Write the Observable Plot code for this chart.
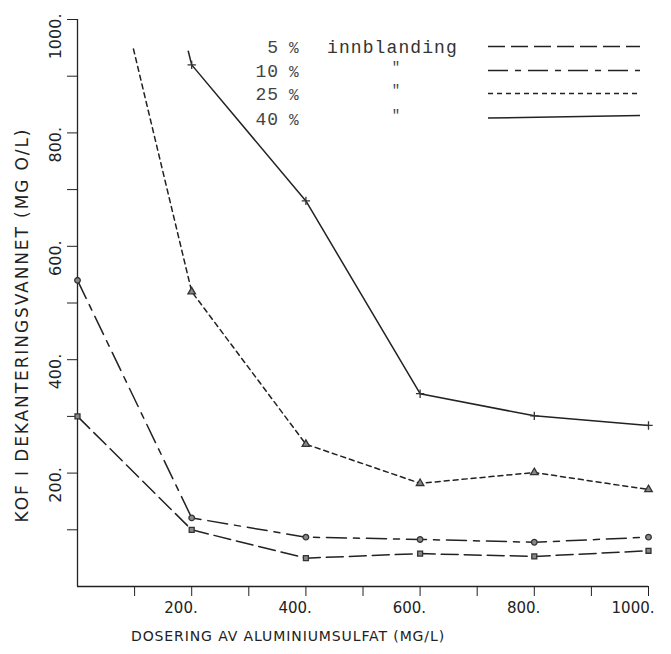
<!DOCTYPE html>
<html><head><meta charset="utf-8">
<script src="https://cdn.jsdelivr.net/npm/d3@7"></script>
<script src="https://cdn.jsdelivr.net/npm/@observablehq/plot@0.6"></script>
<style>
body{margin:0;background:#fff}
#wrap{position:relative;width:671px;height:654px;background:#fff}
#legend{position:absolute;left:0;top:0;pointer-events:none}
</style>
</head><body><div id="wrap"></div>
<script>
// ---- data ----
const seriesNames = ["5 %", "10 %", "25 %", "40 %"];
const dose5  = [0, 200, 400, 600, 800, 1000];
const kof5   = [300, 100, 50, 58, 53, 63];
const dose10 = [0, 200, 400, 600, 800, 1000];
const kof10  = [540, 121, 87, 83, 78, 87];
const dose25 = [98, 200, 400, 600, 800, 1000];
const kof25  = [948, 520, 251, 182, 201, 171];
const dose40 = [194, 200, 400, 600, 800, 1000];
const kof40  = [944, 920, 680, 340, 301, 284];
const xTicks = [100, 200, 300, 400, 500, 600, 700, 800, 900, 1000];
const yTicks = [100, 200, 300, 400, 500, 600, 700, 800, 900, 1000];
const xLabels = [200, 400, 600, 800, 1000];
const yLabels = [200, 400, 600, 800, 1000];
const xTitle = "DOSERING AV ALUMINIUMSULFAT (MG/L)";
const yTitle = "KOF I DEKANTERINGSVANNET (MG O/L)";
const legendWord = "innblanding";
const dittoMark = "\"";

// ---- build rows ----
const seriesData = [[dose5, kof5], [dose10, kof10], [dose25, kof25], [dose40, kof40]];
const rows = seriesData.flatMap(([xs, ys], i) =>
  xs.map((d, j) => ({series: seriesNames[i], dose: d, kof: ys[j], marked: d % 200 === 0})));

const ink = "#222";
const dashes = {"5 %": "17,6", "10 %": "20,7,6,7", "25 %": "5,4", "40 %": null};

const lineMarks = seriesNames.map(s =>
  Plot.line(rows.filter(r => r.series === s), {
    x: "dose", y: "kof", stroke: ink, strokeWidth: 1.5,
    strokeDasharray: dashes[s], curve: "linear"
  }));

const chart = Plot.plot({
  width: 671, height: 654,
  marginLeft: 77, marginRight: 23, marginTop: 19, marginBottom: 68,
  x: {domain: [0, 1000]},
  y: {domain: [0, 1000]},
  symbol: {domain: seriesNames, range: ["square", "circle", "triangle", "plus"]},
  style: {fontFamily: "DejaVu Sans", fontSize: "14px", color: ink, background: "#fff"},
  marks: [
    Plot.ruleX([0], {y1: 0, y2: 1000, stroke: ink, strokeWidth: 1.3}),
    Plot.ruleY([0], {x1: 0, x2: 1000, stroke: ink, strokeWidth: 1.3}),
    Plot.axisX({ticks: xTicks, tickSize: 10, tickFormat: () => "", label: null, stroke: ink}),
    Plot.axisY({ticks: yTicks, tickSize: 10, tickFormat: () => "", label: null, stroke: ink}),
    Plot.text(xLabels, {x: d => d, y: 0, text: d => d + ".", textAnchor: "end", lineAnchor: "middle",
      dx: 6, dy: 22, fill: ink, fontSize: 15}),
    Plot.text(yLabels, {x: 0, y: d => d, text: d => d + ".", rotate: -90, textAnchor: "end", lineAnchor: "middle",
      dx: -22, dy: -6, fill: ink, fontSize: 16}),
    Plot.text([xTitle], {frameAnchor: "bottom", textAnchor: "middle", lineAnchor: "middle",
      dx: -75, dy: 50, fill: ink, fontSize: 14}),
    Plot.text([yTitle], {frameAnchor: "left", rotate: -90, textAnchor: "middle", lineAnchor: "middle",
      dx: -55, dy: 22, fill: ink, fontSize: 17}),
    ...lineMarks,
    Plot.dot(rows.filter(r => r.marked), {x: "dose", y: "kof", symbol: "series", r: 2.8, stroke: "#333", strokeWidth: 1.3, fill: "#888"})
  ]
});
// letter spacing for the plotter-style titles
d3.select(chart).selectAll("text").each(function() {
  const t = this.textContent;
  if (t === xTitle) d3.select(this).attr("letter-spacing", 0.9);
  if (t === yTitle) d3.select(this).attr("letter-spacing", 1.9);
});
const wrap = document.getElementById("wrap");
wrap.appendChild(chart);

// ---- legend overlay ----
const lg = d3.select(wrap).append("svg").attr("id", "legend")
  .attr("width", 671).attr("height", 654);
const rowY = [47, 71, 94, 119];
const font = "'Liberation Mono', monospace";
seriesNames.forEach((s, i) => {
  const y = rowY[i];
  const [num] = s.split(" ");
  lg.append("text").attr("x", 279).attr("y", y).attr("dy", "0.35em")
    .attr("text-anchor", "end").attr("font-family", font).attr("font-size", 18)
    .attr("letter-spacing", 1).attr("fill", "#444").text(num);
  lg.append("text").attr("x", 289).attr("y", y).attr("dy", "0.35em")
    .attr("font-family", font).attr("font-size", 16).attr("fill", "#444").text("%");
  if (i === 0) {
    lg.append("text").attr("x", 327).attr("y", y).attr("dy", "0.35em")
      .attr("font-family", font).attr("font-size", 18).attr("letter-spacing", 1.1)
      .attr("fill", "#333").text(legendWord);
  } else {
    lg.append("text").attr("x", 396).attr("y", y - 4).attr("dy", "0.35em")
      .attr("text-anchor", "middle").attr("font-family", font).attr("font-size", 14)
      .attr("fill", "#444").text(dittoMark);
  }
  lg.append("line").attr("x1", 488).attr("x2", 640)
    .attr("y1", i === 3 ? 118 : y - 0.5).attr("y2", i === 3 ? 115.5 : y - 0.5)
    .attr("stroke", ink).attr("stroke-width", 1.5)
    .attr("stroke-dasharray", dashes[s]);
});
</script>
</body></html>
